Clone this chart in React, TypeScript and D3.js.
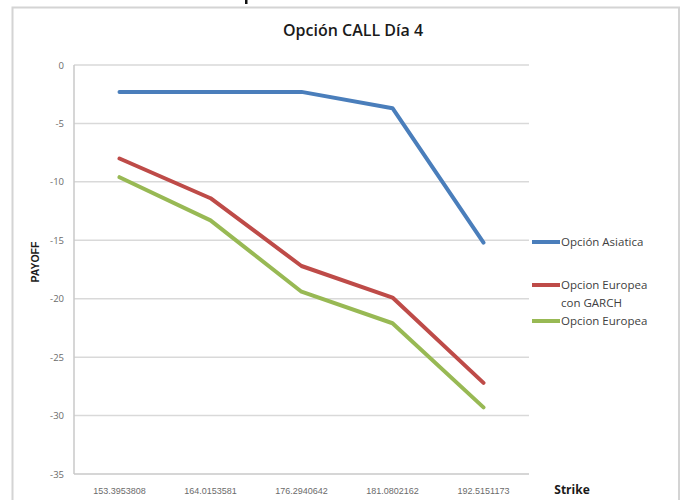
import React from "react";
import * as d3 from "d3";

// Strike prices (category axis)
const strikes = ["153.3953808", "164.0153581", "176.2940642", "181.0802162", "192.5151173"];

// Payoff per strike for each option model
const asiatica = [-2.3, -2.3, -2.3, -3.7, -15.2];
const europeaGarch = [-8.0, -11.4, -17.2, -19.9, -27.2];
const europea = [-9.6, -13.3, -19.4, -22.1, -29.3];

const yTicks = [0, -5, -10, -15, -20, -25, -30, -35];

const seriesColors = ["#4a7ebb", "#be4b48", "#98b954"];

const W = 684;
const H = 500;
const plot = { left: 74, right: 529, top: 65, bottom: 474 };

export default function App() {
  const x = d3
    .scalePoint<string>()
    .domain(strikes)
    .range([plot.left, plot.right])
    .padding(0.5);
  const y = d3.scaleLinear().domain([-35, 0]).range([plot.bottom, plot.top]);

  const line = d3
    .line<number>()
    .x((_, i) => x(strikes[i]) as number)
    .y((d) => y(d));

  const series = [asiatica, europeaGarch, europea];
  const font = "'Open Sans', 'Liberation Sans', sans-serif";
  const legendY = [242, 285, 321];

  return (
    <svg
      width={W}
      height={H}
      style={{ position: "absolute", left: 0, top: 0, background: "#fff" }}
      fontFamily={font}
    >
      {/* ink from the page above the chart frame */}
      <rect x={245} y={0} width={2.5} height={4} fill="#111" />

      {/* chart frame */}
      <rect x={12.5} y={7.5} width={666.5} height={500} fill="#fff" stroke="#d4d4d4" strokeWidth={2} />

      <text
        x={353}
        y={36}
        textAnchor="middle"
        fontSize={16}
        fontWeight={600}
        fill="#1a1a1a"
      >
        Opción CALL Día 4
      </text>

      {/* gridlines */}
      {yTicks.slice(0, -1).map((t) => (
        <line
          key={t}
          x1={plot.left}
          x2={plot.right}
          y1={y(t)}
          y2={y(t)}
          stroke="#d9d9d9"
          strokeWidth={1.5}
        />
      ))}
      {/* axes */}
      <line x1={plot.left} x2={plot.left} y1={plot.top} y2={plot.bottom} stroke="#c8c8c8" strokeWidth={1.5} />
      <line x1={plot.left} x2={plot.right} y1={plot.bottom} y2={plot.bottom} stroke="#c8c8c8" strokeWidth={1.5} />

      {yTicks.map((t) => (
        <text
          key={t}
          x={64}
          y={y(t) + 3.5}
          textAnchor="end"
          fontSize={9.5}
          fill="#6b6b6b"
        >
          {t}
        </text>
      ))}

      {strikes.map((s) => (
        <text
          key={s}
          x={x(s) as number}
          y={494}
          textAnchor="middle"
          fontSize={9}
          fill="#6b6b6b"
          fontFamily="'Liberation Sans', sans-serif"
        >
          {s}
        </text>
      ))}

      <text x={572} y={494} textAnchor="middle" fontSize={12} fontWeight={700} fill="#1a1a1a">
        Strike
      </text>

      <text
        transform={`translate(39, 262) rotate(-90)`}
        textAnchor="middle"
        fontSize={10.5}
        fontWeight={700}
        fill="#1a1a1a"
        fontFamily="'Liberation Sans', sans-serif"
      >
        PAYOFF
      </text>

      {/* series lines */}
      {series.map((vals, i) => (
        <path
          key={i}
          d={line(vals) as string}
          fill="none"
          stroke={seriesColors[i]}
          strokeWidth={4}
          strokeLinejoin="round"
          strokeLinecap="round"
        />
      ))}

      {/* legend */}
      <g fontSize={11.5} fill="#404040">
        {series.map((_, i) => (
          <line
            key={i}
            x1={532}
            x2={560}
            y1={legendY[i]}
            y2={legendY[i]}
            stroke={seriesColors[i]}
            strokeWidth={4}
          />
        ))}
        <text x={561} y={246}>Opción Asiatica</text>
        <text x={561} y={289}>Opcion Europea</text>
        <text x={561} y={307}>con GARCH</text>
        <text x={561} y={325}>Opcion Europea</text>
      </g>
    </svg>
  );
}
